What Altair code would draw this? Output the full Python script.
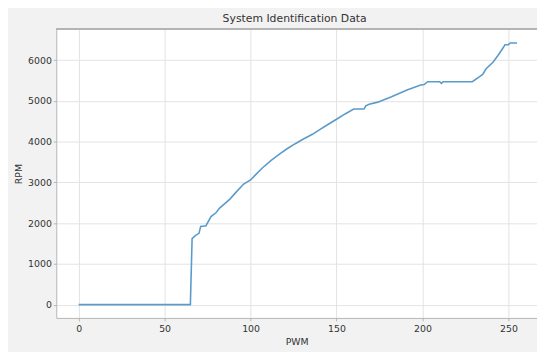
import altair as alt
import pandas as pd

pwm = [0, 65, 66, 68, 70, 71, 73, 74, 77, 80, 82, 85, 88, 92, 96, 100, 103, 107, 112, 117,
       121, 126, 131, 136, 140, 145, 150, 155, 160, 166, 167, 169, 174, 182, 191, 199, 201,
       203, 210, 211, 212, 229, 233, 235, 237, 241, 244, 247, 248, 250, 251, 255]
rpm = [0, 0, 1620, 1700, 1750, 1920, 1930, 1930, 2160, 2260, 2370, 2480, 2590, 2780, 2960,
       3060, 3190, 3360, 3540, 3700, 3820, 3950, 4070, 4180, 4290, 4420, 4550, 4680, 4800,
       4800, 4880, 4920, 4970, 5100, 5270, 5390, 5400, 5470, 5470, 5430, 5470, 5470, 5590,
       5650, 5790, 5950, 6120, 6310, 6380, 6380, 6420, 6420]
x_ticks = [0, 50, 100, 150, 200, 250]
y_ticks = [0, 1000, 2000, 3000, 4000, 5000, 6000]

df = pd.DataFrame({"PWM": pwm, "RPM": rpm})

W, H = 488, 293
FONT = "DejaVu Sans"
TXT = "#333333"
SPINE = "#b5b5b5"

line = alt.Chart(df).mark_line(color="#5b9bcb", strokeWidth=1.6, clip=True).encode(
    x=alt.X("PWM:Q",
            scale=alt.Scale(domain=[-13, 266.6], nice=False, zero=False),
            axis=alt.Axis(values=x_ticks, title="PWM", format="d")),
    y=alt.Y("RPM:Q",
            scale=alt.Scale(domain=[-326, 6758], nice=False, zero=False),
            axis=alt.Axis(values=y_ticks, title="RPM", format="d")),
)

top_spine = alt.Chart(df).mark_rule(color=SPINE, strokeWidth=1).encode(
    x=alt.value(0), x2=alt.value(W), y=alt.value(0)
)

chart = alt.layer(line, top_spine).properties(
    width=W, height=H,
    title=alt.TitleParams("System Identification Data", fontSize=11, font=FONT,
                          color=TXT, fontWeight="normal", offset=5, dx=-2),
    autosize=alt.AutoSizeParams(type="none"),
    padding={"left": 49, "top": 19, "right": 0, "bottom": 32},
    background="#f2f2f2",
).configure_view(
    fill="white", stroke=None
).configure_axis(
    labelFont=FONT, titleFont=FONT, labelFontSize=9.5, titleFontSize=9.5,
    labelColor=TXT, titleColor=TXT, titleFontWeight="normal",
    domainColor=SPINE, tickColor=SPINE, tickSize=3,
    gridColor="#e3e3e3", gridWidth=1,
).configure_axisX(
    labelPadding=3, titlePadding=4,
).configure_axisY(
    labelPadding=2, titlePadding=4,
)

chart.save("out.html", embed_options={"renderer": "svg", "actions": False})
